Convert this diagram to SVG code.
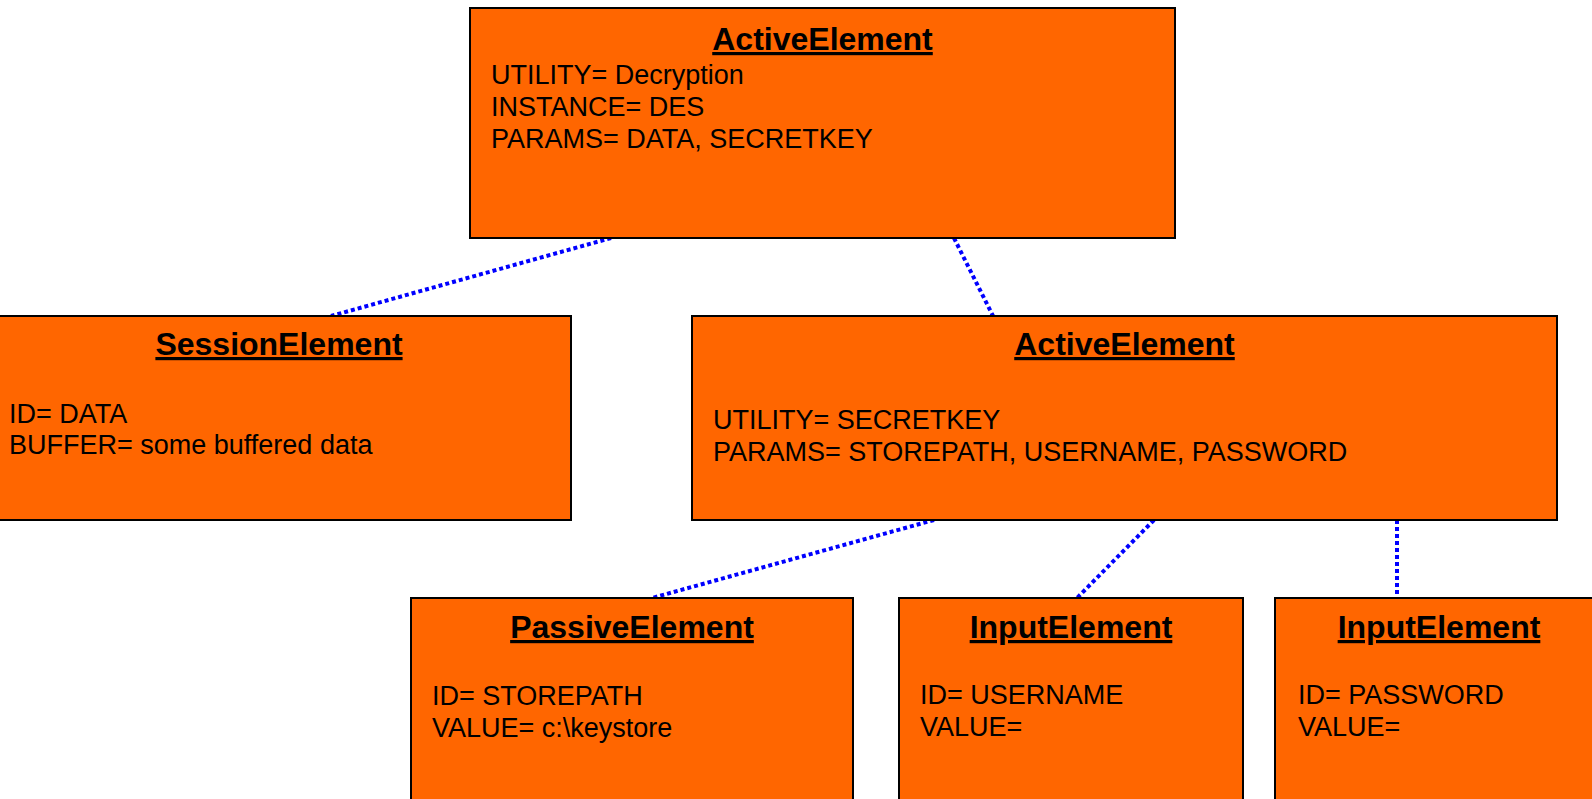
<svg xmlns="http://www.w3.org/2000/svg" width="1592" height="799" viewBox="0 0 1592 799">
  <style>
    .box { fill: #FF6600; stroke: #000; stroke-width: 2; }
    .title { font-family: "Liberation Sans", Arial, sans-serif; font-size: 32px; font-weight: bold; text-anchor: middle; text-decoration: underline; fill: #000; }
    .attr { font-family: "Liberation Sans", Arial, sans-serif; font-size: 27px; fill: #000; }
    .link { stroke: #0000FF; stroke-width: 4; stroke-dasharray: 4 3; fill: none; }
  </style>

  <rect width="1592" height="799" fill="#fff"/>

  <!-- connectors between elements -->
  <g id="connectors">
    <line class="link" x1="611" y1="238" x2="331" y2="316"/>
    <line class="link" x1="954" y1="238" x2="993" y2="316"/>
    <line class="link" x1="934" y1="520" x2="652" y2="598"/>
    <line class="link" x1="1154" y1="520" x2="1077" y2="598"/>
    <line class="link" x1="1397" y1="520" x2="1397" y2="598"/>
  </g>

  <!-- root active element -->
  <g id="active-decryption">
    <rect class="box" x="470" y="8" width="705" height="230"/>
    <text class="title" x="822.5" y="50">ActiveElement</text>
    <text class="attr" x="491" y="84">UTILITY= Decryption</text>
    <text class="attr" x="491" y="115.5">INSTANCE= DES</text>
    <text class="attr" x="491" y="147.5">PARAMS= DATA, SECRETKEY</text>
  </g>

  <g id="session-data">
    <rect class="box" x="-13" y="316" width="584" height="204"/>
    <text class="title" x="279" y="355">SessionElement</text>
    <text class="attr" x="9" y="422.5">ID= DATA</text>
    <text class="attr" x="9" y="454">BUFFER= some buffered data</text>
  </g>

  <g id="active-secretkey">
    <rect class="box" x="692" y="316" width="865" height="204"/>
    <text class="title" x="1124.5" y="355">ActiveElement</text>
    <text class="attr" x="713" y="429">UTILITY= SECRETKEY</text>
    <text class="attr" x="713" y="460.5">PARAMS= STOREPATH, USERNAME, PASSWORD</text>
  </g>

  <g id="passive-storepath">
    <rect class="box" x="411" y="598" width="442" height="220"/>
    <text class="title" x="632" y="638">PassiveElement</text>
    <text class="attr" x="432" y="704.5">ID= STOREPATH</text>
    <text class="attr" x="432" y="736.5">VALUE= c:\keystore</text>
  </g>

  <g id="input-username">
    <rect class="box" x="899" y="598" width="344" height="220"/>
    <text class="title" x="1071" y="638">InputElement</text>
    <text class="attr" x="920" y="704">ID= USERNAME</text>
    <text class="attr" x="920" y="736">VALUE=</text>
  </g>

  <g id="input-password">
    <rect class="box" x="1275" y="598" width="329" height="220"/>
    <text class="title" x="1439" y="638">InputElement</text>
    <text class="attr" x="1298" y="704">ID= PASSWORD</text>
    <text class="attr" x="1298" y="736">VALUE=</text>
  </g>
</svg>
